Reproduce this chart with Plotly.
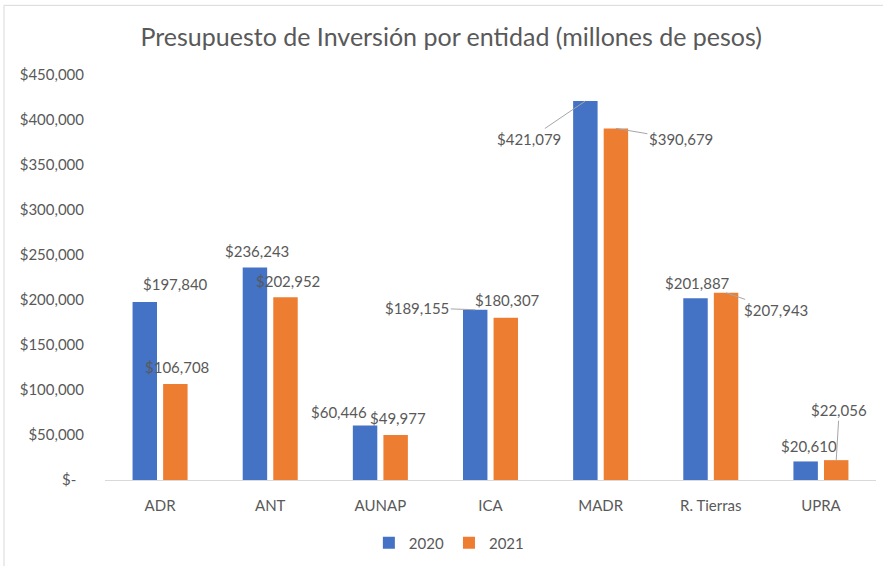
import plotly.graph_objects as go

categories = ["ADR", "ANT", "AUNAP", "ICA", "MADR", "R. Tierras", "UPRA"]
values_2020 = [197840, 236243, 60446, 189155, 421079, 201887, 20610]
values_2021 = [106708, 202952, 49977, 180307, 390679, 207943, 22056]
series_names = ["2020", "2021"]
y_tickvals = [0, 50000, 100000, 150000, 200000, 250000, 300000, 350000, 400000, 450000]
y_ticktext = ["$-\u00a0\u00a0", "$50,000", "$100,000", "$150,000", "$200,000", "$250,000",
              "$300,000", "$350,000", "$400,000", "$450,000"]

# label offsets in pixels (dx from bar center, dy above bar top), and leader flags
label_dx_2020 = [31, 2, -26, -58, -56, 2, 3]
label_dy_2020 = [18, 16, 14, 2, -38, 15, 15]
leader_2020 = [False, False, False, True, True, False, False]
label_dx_2021 = [2, 2, 2, 2, 65, 50, 3]
label_dy_2021 = [17, 16, 17, 18, -11, -17, 50]
leader_2021 = [False, False, False, False, True, True, True]

BLUE = "#4472C4"
ORANGE = "#ED7D31"
TXT = "#595959"
FONT = "Lato"
FS = 15

BARGAP = 0.445
BARGROUPGAP = 0.2
slot = (1 - BARGAP) / 2
offsets = [-slot / 2, slot / 2]

fig = go.Figure()
fig.add_trace(go.Bar(x=categories, y=values_2020, name=series_names[0], marker_color=BLUE,
                     marker_line_width=0))
fig.add_trace(go.Bar(x=categories, y=values_2021, name=series_names[1], marker_color=ORANGE,
                     marker_line_width=0))

def fmt(v):
    return "${:,}".format(v)

annotations = []
for vals, dxs, dys, leads, off in [
    (values_2020, label_dx_2020, label_dy_2020, leader_2020, offsets[0]),
    (values_2021, label_dx_2021, label_dy_2021, leader_2021, offsets[1]),
]:
    for i, v in enumerate(vals):
        if leads[i]:
            annotations.append(dict(
                x=i + off, y=v, xref="x", yref="y", text=fmt(v),
                showarrow=True, ax=dxs[i], ay=-dys[i], arrowhead=0, arrowwidth=1,
                arrowcolor="#A6A6A6", standoff=0, startstandoff=0,
                font=dict(family=FONT, size=FS, color=TXT)))
        else:
            annotations.append(dict(
                x=i + off, y=v, xref="x", yref="y", text=fmt(v),
                showarrow=False, xshift=dxs[i], yshift=dys[i],
                xanchor="center", yanchor="middle",
                font=dict(family=FONT, size=FS, color=TXT)))

fig.update_layout(
    width=883, height=566,
    margin=dict(l=105, r=7, t=75, b=85),
    paper_bgcolor="white", plot_bgcolor="white",
    barmode="group", bargap=BARGAP, bargroupgap=BARGROUPGAP,
    font=dict(family=FONT, size=FS, color=TXT),
    title=dict(text="Presupuesto de Inversión por entidad (millones de pesos)",
               x=0.511, xanchor="center", xref="container",
               y=0.935, yanchor="middle", yref="container",
               font=dict(family=FONT, size=25, color=TXT)),
    xaxis=dict(showgrid=False, showline=True, linecolor="#D9D9D9", linewidth=1,
               ticks="", ticklabelstandoff=12, tickfont=dict(family=FONT, size=FS, color=TXT),
               zeroline=False),
    yaxis=dict(range=[0, 450000], tickvals=y_tickvals, ticktext=y_ticktext,
               showgrid=False, showline=False, zeroline=False, ticks="",
               ticklabelstandoff=20, tickfont=dict(family=FONT, size=FS, color=TXT)),
    legend=dict(orientation="h", x=0.446, xanchor="center", y=-0.153, yanchor="middle",
                font=dict(family=FONT, size=FS, color=TXT), traceorder="normal",
                itemwidth=30),
    annotations=annotations,
    shapes=[
        dict(type="line", xref="paper", yref="paper", x0=-0.131, x1=-0.131, y0=-0.3, y1=1.172,
             line=dict(color="#D9D9D9", width=1)),
        dict(type="line", xref="paper", yref="paper", x0=-0.131, x1=1.1, y0=1.172, y1=1.172,
             line=dict(color="#D9D9D9", width=1)),
    ],
)

fig.write_html("out.html", config={"displayModeBar": False},
               post_script="document.body.style.margin='0';document.body.style.padding='0';")
